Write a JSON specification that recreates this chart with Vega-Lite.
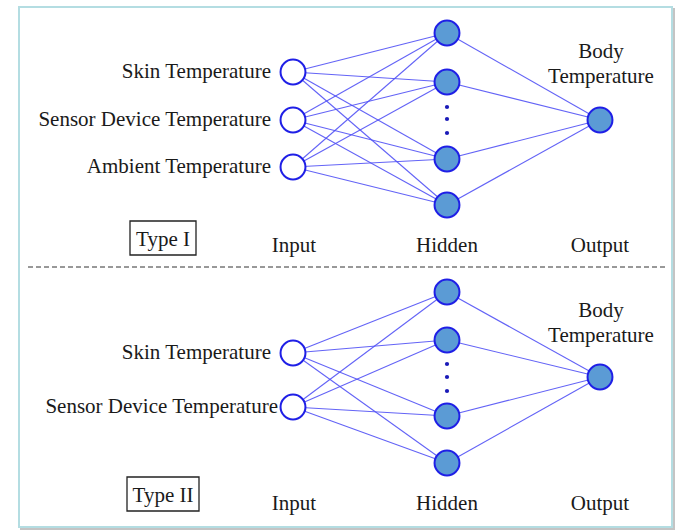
{
  "$schema": "https://vega.github.io/schema/vega-lite/v6.json",
  "width": 675,
  "height": 531,
  "padding": 0,
  "autosize": {"type": "fit", "contains": "padding"},
  "background": "white",
  "config": {"view": {"stroke": null}},
  "datasets": {
    "frame": [
      {"kind": "shadow", "x": 21, "y": 9, "x2": 674, "y2": 529},
      {"kind": "border", "x": 19, "y": 7, "x2": 672, "y2": 527}
    ],
    "boxes": [
      {"x": 130, "y": 221, "x2": 196, "y2": 255},
      {"x": 127, "y": 477, "x2": 199, "y2": 511}
    ],
    "divider": [{"x": 28, "x2": 666, "y": 267}],
    "edges": [
      {"x": 293, "y": 72, "x2": 447, "y2": 33},
      {"x": 293, "y": 72, "x2": 447, "y2": 82},
      {"x": 293, "y": 72, "x2": 447, "y2": 159},
      {"x": 293, "y": 72, "x2": 447, "y2": 205},
      {"x": 293, "y": 120, "x2": 447, "y2": 33},
      {"x": 293, "y": 120, "x2": 447, "y2": 82},
      {"x": 293, "y": 120, "x2": 447, "y2": 159},
      {"x": 293, "y": 120, "x2": 447, "y2": 205},
      {"x": 293, "y": 167, "x2": 447, "y2": 33},
      {"x": 293, "y": 167, "x2": 447, "y2": 82},
      {"x": 293, "y": 167, "x2": 447, "y2": 159},
      {"x": 293, "y": 167, "x2": 447, "y2": 205},
      {"x": 447, "y": 33, "x2": 600, "y2": 120},
      {"x": 447, "y": 82, "x2": 600, "y2": 120},
      {"x": 447, "y": 159, "x2": 600, "y2": 120},
      {"x": 447, "y": 205, "x2": 600, "y2": 120},
      {"x": 293, "y": 353, "x2": 447, "y2": 292},
      {"x": 293, "y": 353, "x2": 447, "y2": 340},
      {"x": 293, "y": 353, "x2": 447, "y2": 416},
      {"x": 293, "y": 353, "x2": 447, "y2": 463},
      {"x": 293, "y": 407, "x2": 447, "y2": 292},
      {"x": 293, "y": 407, "x2": 447, "y2": 340},
      {"x": 293, "y": 407, "x2": 447, "y2": 416},
      {"x": 293, "y": 407, "x2": 447, "y2": 463},
      {"x": 447, "y": 292, "x2": 600, "y2": 377},
      {"x": 447, "y": 340, "x2": 600, "y2": 377},
      {"x": 447, "y": 416, "x2": 600, "y2": 377},
      {"x": 447, "y": 463, "x2": 600, "y2": 377}
    ],
    "nodes": [
      {"x": 293, "y": 72, "layer": "input"},
      {"x": 293, "y": 120, "layer": "input"},
      {"x": 293, "y": 167, "layer": "input"},
      {"x": 447, "y": 33, "layer": "hidden"},
      {"x": 447, "y": 82, "layer": "hidden"},
      {"x": 447, "y": 159, "layer": "hidden"},
      {"x": 447, "y": 205, "layer": "hidden"},
      {"x": 600, "y": 120, "layer": "output"},
      {"x": 293, "y": 353, "layer": "input"},
      {"x": 293, "y": 407, "layer": "input"},
      {"x": 447, "y": 292, "layer": "hidden"},
      {"x": 447, "y": 340, "layer": "hidden"},
      {"x": 447, "y": 416, "layer": "hidden"},
      {"x": 447, "y": 463, "layer": "hidden"},
      {"x": 600, "y": 377, "layer": "output"}
    ],
    "dots": [
      {"x": 447, "y": 107},
      {"x": 447, "y": 119},
      {"x": 447, "y": 133},
      {"x": 447, "y": 364},
      {"x": 447, "y": 377},
      {"x": 447, "y": 391}
    ],
    "rightLabels": [
      {"text": "Skin Temperature", "x": 271, "y": 78},
      {"text": "Sensor Device Temperature", "x": 271, "y": 126},
      {"text": "Ambient Temperature", "x": 271, "y": 173},
      {"text": "Skin Temperature", "x": 271, "y": 359},
      {"text": "Sensor Device Temperature", "x": 278, "y": 413}
    ],
    "centerLabels": [
      {"text": "Type I", "x": 163, "y": 246},
      {"text": "Input", "x": 294, "y": 252},
      {"text": "Hidden", "x": 447, "y": 252},
      {"text": "Output", "x": 600, "y": 252},
      {"text": "Body", "x": 601, "y": 58},
      {"text": "Temperature", "x": 601, "y": 83},
      {"text": "Type II", "x": 163, "y": 502},
      {"text": "Input", "x": 294, "y": 510},
      {"text": "Hidden", "x": 447, "y": 510},
      {"text": "Output", "x": 600, "y": 510},
      {"text": "Body", "x": 601, "y": 317},
      {"text": "Temperature", "x": 601, "y": 342}
    ]
  },
  "encoding": {
    "x": {"field": "x", "type": "quantitative", "scale": {"domain": [0, 675], "nice": false, "zero": false}, "axis": null},
    "y": {"field": "y", "type": "quantitative", "scale": {"domain": [0, 531], "nice": false, "zero": false, "reverse": true}, "axis": null}
  },
  "layer": [
    {
      "data": {"name": "frame"},
      "transform": [{"filter": "datum.kind === 'shadow'"}],
      "mark": {"type": "rect", "strokeWidth": 2, "fill": "#c4c4c4", "stroke": "#c4c4c4"},
      "encoding": {"x2": {"field": "x2"}, "y2": {"field": "y2"}}
    },
    {
      "data": {"name": "frame"},
      "transform": [{"filter": "datum.kind === 'border'"}],
      "mark": {"type": "rect", "strokeWidth": 2, "fill": "#ffffff", "stroke": "#b4dde2"},
      "encoding": {"x2": {"field": "x2"}, "y2": {"field": "y2"}}
    },
    {
      "data": {"name": "divider"},
      "mark": {"type": "rule", "color": "#333333", "strokeWidth": 1, "strokeDash": [5, 3]},
      "encoding": {"x2": {"field": "x2"}}
    },
    {
      "data": {"name": "boxes"},
      "mark": {"type": "rect", "fill": null, "stroke": "#222222", "strokeWidth": 1.3},
      "encoding": {"x2": {"field": "x2"}, "y2": {"field": "y2"}}
    },
    {
      "data": {"name": "edges"},
      "mark": {"type": "rule", "color": "#5252f5", "strokeWidth": 1.1, "opacity": 0.9},
      "encoding": {"x2": {"field": "x2"}, "y2": {"field": "y2"}}
    },
    {
      "data": {"name": "nodes"},
      "mark": {"type": "point", "shape": "circle", "filled": true, "size": 620, "stroke": "#1f1fe6", "strokeWidth": 2, "opacity": 1},
      "encoding": {
        "fill": {"field": "layer", "type": "nominal", "scale": {"domain": ["input", "hidden", "output"], "range": ["#ffffff", "#5b9bd5", "#5b9bd5"]}, "legend": null}
      }
    },
    {
      "data": {"name": "dots"},
      "mark": {"type": "point", "shape": "circle", "filled": true, "size": 18, "color": "#1a1ab8", "opacity": 1}
    },
    {
      "data": {"name": "rightLabels"},
      "mark": {"type": "text", "align": "right", "baseline": "alphabetic", "font": "Liberation Serif", "fontSize": 21, "color": "#1a1a1a"},
      "encoding": {"text": {"field": "text"}}
    },
    {
      "data": {"name": "centerLabels"},
      "mark": {"type": "text", "align": "center", "baseline": "alphabetic", "font": "Liberation Serif", "fontSize": 21, "color": "#1a1a1a"},
      "encoding": {"text": {"field": "text"}}
    }
  ]
}
